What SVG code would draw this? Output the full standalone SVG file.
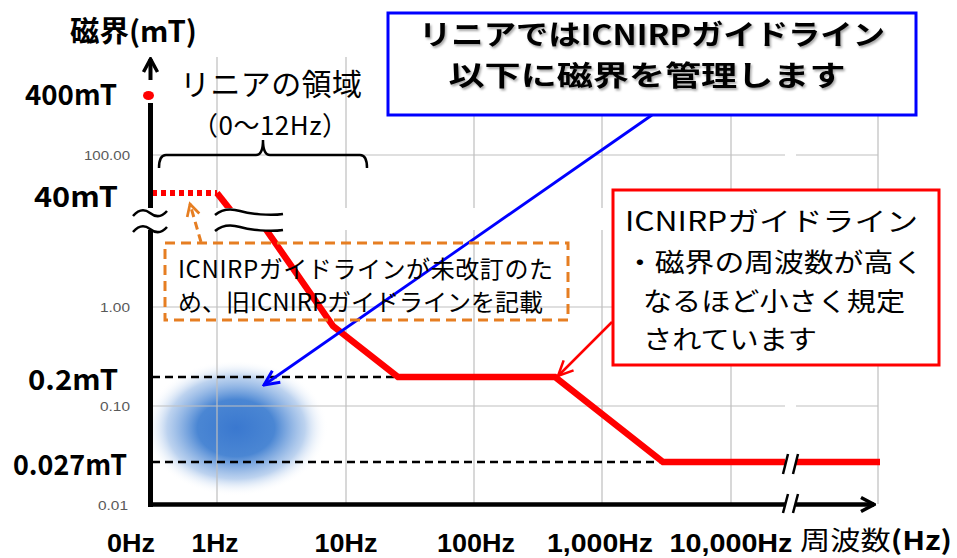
<svg xmlns="http://www.w3.org/2000/svg" width="957" height="558" viewBox="0 0 957 558">
<style>
.t{font-family:"Noto Sans CJK JP","Noto Sans",sans-serif;fill:#000}
.b{font-weight:700}
.x{font-family:"Liberation Sans",Arial,sans-serif;font-weight:700;font-size:25px;fill:#000}
.tick{font-family:"Liberation Sans",sans-serif;font-size:12px;fill:#595959}
.grid{stroke:#bfbfbf;stroke-width:1.2;fill:none}
.dash{stroke:#000;stroke-width:2.5;stroke-dasharray:8 5;fill:none}
.red{stroke:#ff0000;stroke-width:6.5;fill:none;stroke-linejoin:miter}
.brk{stroke:#000;stroke-width:2.5;fill:none}
</style>
<defs>
<radialGradient id="blob" cx="0.5" cy="0.5" r="0.5">
<stop offset="0" stop-color="#3a78cf" stop-opacity="1"/>
<stop offset="0.42" stop-color="#4180d1" stop-opacity="0.95"/>
<stop offset="0.75" stop-color="#7aa6df" stop-opacity="0.5"/>
<stop offset="1" stop-color="#ffffff" stop-opacity="0"/>
</radialGradient>
<marker id="mb" viewBox="0 0 20 20" refX="18" refY="10" markerWidth="20" markerHeight="20" orient="auto" markerUnits="userSpaceOnUse"><path d="M3,3 L18,10 L3,17" fill="none" stroke="#0000ff" stroke-width="3"/></marker>
<marker id="mr" viewBox="0 0 20 20" refX="18" refY="10" markerWidth="20" markerHeight="20" orient="auto" markerUnits="userSpaceOnUse"><path d="M3,3 L18,10 L3,17" fill="none" stroke="#ff0000" stroke-width="2.5"/></marker>
<marker id="mo" viewBox="0 0 20 20" refX="17" refY="10" markerWidth="18" markerHeight="18" orient="auto" markerUnits="userSpaceOnUse"><path d="M4,3 L17,10 L4,17" fill="none" stroke="#e67e22" stroke-width="3"/></marker>
<marker id="mk" viewBox="0 0 20 20" refX="18" refY="10" markerWidth="20" markerHeight="20" orient="auto" markerUnits="userSpaceOnUse"><path d="M5,3 L18,10 L5,17" fill="none" stroke="#000" stroke-width="3.5"/></marker>
<filter id="sh" x="-5%" y="-20%" width="110%" height="140%"><feDropShadow dx="1.5" dy="2" stdDeviation="1" flood-color="#000" flood-opacity="0.35"/></filter>
</defs>
<rect width="957" height="558" fill="#fff"/>

<g id="chart">
<ellipse cx="236" cy="428" rx="92" ry="68" fill="url(#blob)"/>
<g id="grid">
<path class="grid" d="M217,57V504 M346,57V504 M474,57V504 M602,57V504 M731,57V504 M878,57V504"/>
<path class="grid" d="M152,155H878 M152,307H878 M152,406H878"/>
</g>
<g id="ticks">
<text class="tick" x="130" y="160" text-anchor="end" textLength="46" lengthAdjust="spacingAndGlyphs">100.00</text>
<text class="tick" x="130" y="312" text-anchor="end" textLength="30" lengthAdjust="spacingAndGlyphs">1.00</text>
<text class="tick" x="130" y="411" text-anchor="end" textLength="30" lengthAdjust="spacingAndGlyphs">0.10</text>
<text class="tick" x="128" y="510" text-anchor="end" textLength="30" lengthAdjust="spacingAndGlyphs">0.01</text>
</g>
<path class="dash" d="M152,377H398 M152,462H663"/>
<path d="M152,193H217" stroke="#ff0000" stroke-width="6" stroke-dasharray="5 4" fill="none"/>
<path class="red" d="M217,193 L236,217"/>
<path class="red" d="M258,218 L333,326 L398,377 L555,377 L663,462 L880,462"/>
<g id="axes">
<path d="M150.5,103V507" stroke="#000" stroke-width="5"/>
<path d="M150.5,80V59" stroke="#000" stroke-width="4" marker-end="url(#mk)"/>
<ellipse cx="148.5" cy="95.5" rx="5.5" ry="4.5" fill="#ff0000"/>
<path d="M148,504.5H874" stroke="#000" stroke-width="4.5" marker-end="url(#mk)"/>
</g>
<rect x="138" y="208" width="750" height="22" fill="#fff"/>
<rect x="785" y="140" width="11" height="372" fill="#fff"/>
<g id="breaks">
<path class="brk" d="M133,216 C139,209 145,209 150,213 S161,218 167,211"/>
<path class="brk" d="M133,232 C139,225 145,225 150,229 S161,234 167,227"/>
<path class="brk" d="M215,215 C222,209 230,208 240,211 S270,216 283,214"/>
<path class="brk" d="M215,231 C222,225 230,224 240,227 S270,232 283,230"/>
<path class="brk" d="M783,474 L788,454 M793,474 L798,454 M783,513 L788,494 M793,513 L798,494"/>
</g>
<g id="brace">
<path d="M159,168 Q159,155 166,155 L256,155 Q263,155 263,140 Q263,155 270,155 L360,155 Q367,155 367,168" fill="none" stroke="#000" stroke-width="2.5"/>
</g>
</g>

<g id="labels">
<text class="t b" x="70" y="42" font-size="29" textLength="127" lengthAdjust="spacingAndGlyphs">磁界(mT)</text>
<text class="t b" x="117" y="105" font-size="28" text-anchor="end" textLength="92" lengthAdjust="spacingAndGlyphs">400mT</text>
<text class="t b" x="118" y="207" font-size="28" text-anchor="end" textLength="84" lengthAdjust="spacingAndGlyphs">40mT</text>
<text class="t b" x="118" y="390" font-size="28" text-anchor="end" textLength="90" lengthAdjust="spacingAndGlyphs">0.2mT</text>
<text class="t b" x="127" y="475" font-size="28" text-anchor="end" textLength="114" lengthAdjust="spacingAndGlyphs">0.027mT</text>
<text class="x" x="131" y="552" text-anchor="middle" textLength="48" lengthAdjust="spacingAndGlyphs">0Hz</text>
<text class="x" x="215" y="552" text-anchor="middle" textLength="47" lengthAdjust="spacingAndGlyphs">1Hz</text>
<text class="x" x="346" y="552" text-anchor="middle" textLength="63" lengthAdjust="spacingAndGlyphs">10Hz</text>
<text class="x" x="476" y="552" text-anchor="middle" textLength="78" lengthAdjust="spacingAndGlyphs">100Hz</text>
<text class="x" x="600" y="552" text-anchor="middle" textLength="106" lengthAdjust="spacingAndGlyphs">1,000Hz</text>
<text class="x" x="731" y="552" text-anchor="middle" textLength="123" lengthAdjust="spacingAndGlyphs">10,000Hz</text>
<text class="t" x="876" y="550" font-size="26" text-anchor="middle" textLength="152" lengthAdjust="spacingAndGlyphs">周波数<tspan class="b">(Hz)</tspan></text>
<text class="t" x="180" y="95" font-size="30" textLength="182">リニアの領域</text>
<text class="t" x="270" y="135" font-size="26" text-anchor="middle" textLength="156">（0～12Hz）</text>
</g>

<g id="connectors">
<path d="M201,242 L190,204" stroke="#e67e22" stroke-width="3" stroke-dasharray="8 5" fill="none" marker-end="url(#mo)"/>
<path d="M652,115 L264,385" stroke="#0000ff" stroke-width="2.8" fill="none" marker-end="url(#mb)"/>
<path d="M612,322 L558,376" stroke="#ff0000" stroke-width="2.5" fill="none" marker-end="url(#mr)"/>
</g>

<g id="note-old">
<rect x="165" y="243" width="403" height="77" fill="none" stroke="#e67e22" stroke-width="3" stroke-dasharray="10 6"/>
<text class="t" x="178" y="278" font-size="24" textLength="375">ICNIRPガイドラインが未改訂のた</text>
<text class="t" x="178" y="311" font-size="24" textLength="365">め、旧ICNIRPガイドラインを記載</text>
</g>

<g id="callout-linear">
<rect x="388" y="13" width="528" height="102" fill="#fff" stroke="#0000ff" stroke-width="3"/>
<g filter="url(#sh)">
<text class="t b" x="652" y="45" font-size="28" text-anchor="middle" textLength="466" lengthAdjust="spacingAndGlyphs">リニアではICNIRPガイドライン</text>
<text class="t b" x="647" y="86" font-size="28" text-anchor="middle" textLength="397" lengthAdjust="spacingAndGlyphs">以下に磁界を管理します</text>
</g>
</g>

<g id="callout-icnirp">
<rect x="613" y="190" width="326" height="175" fill="#fff" stroke="#ff0000" stroke-width="3"/>
<text class="t" x="625" y="231" font-size="26.5" textLength="293" lengthAdjust="spacingAndGlyphs">ICNIRPガイドライン</text>
<text class="t" x="625" y="272" font-size="26.5" textLength="298" lengthAdjust="spacingAndGlyphs">・磁界の周波数が高く</text>
<text class="t" x="643" y="310.5" font-size="26.5" textLength="262" lengthAdjust="spacingAndGlyphs">なるほど小さく規定</text>
<text class="t" x="643" y="349" font-size="26.5" textLength="174" lengthAdjust="spacingAndGlyphs">されています</text>
</g>
</svg>
